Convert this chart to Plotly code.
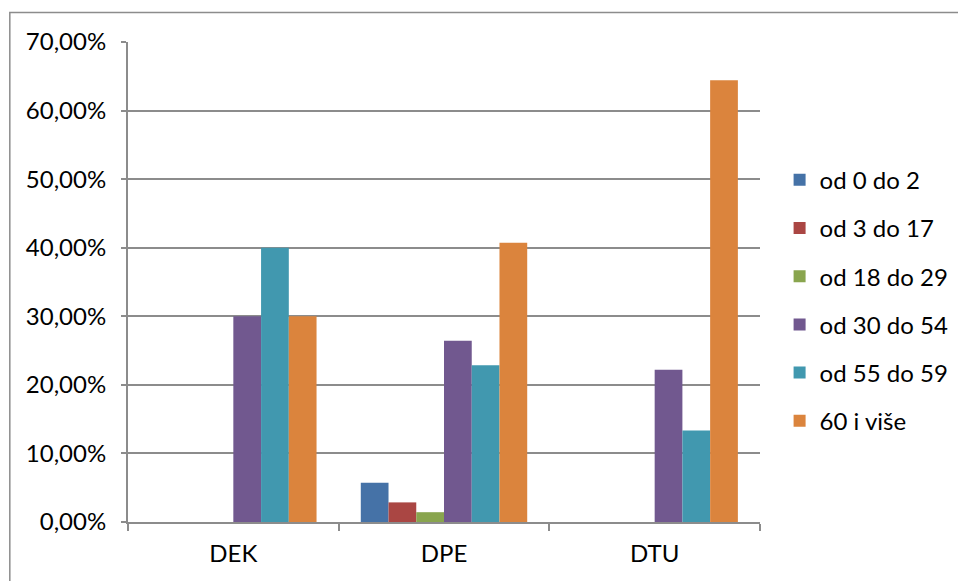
import plotly.graph_objects as go

# ── Data ─────────────────────────────────────────────────────────────────────

CATEGORIES = ["DEK", "DPE", "DTU"]
SERIES = ["od 0 do 2", "od 3 do 17", "od 18 do 29", "od 30 do 54", "od 55 do 59", "60 i više"]

VAL_0_2 = [None, 0.0571, None]
VAL_3_17 = [None, 0.0286, None]
VAL_18_29 = [None, 0.0143, None]
VAL_30_54 = [0.30, 0.2643, 0.2222]
VAL_55_59 = [0.40, 0.2286, 0.1333]
VAL_60_PLUS = [0.30, 0.4071, 0.6444]

COLORS = ["#4572A7", "#AA4643", "#89A54E", "#71588F", "#4198AF", "#DB843D"]

FONT = "Lato, 'Open Sans', sans-serif"
GRID = "#8c8c8c"

# ── Figure ───────────────────────────────────────────────────────────────────

fig = go.Figure()
for i, (name, vals) in enumerate(zip(SERIES, [VAL_0_2, VAL_3_17, VAL_18_29, VAL_30_54, VAL_55_59, VAL_60_PLUS])):
    fig.add_trace(go.Bar(
        name=name, x=CATEGORIES, y=vals,
        marker=dict(color=COLORS[i], line=dict(width=0)),
        legendgroup=str(i),
    ))

# page body has an 8px margin, so the figure is drawn 8px in from the top-left
fig.update_layout(
    width=958, height=573,
    margin=dict(l=120, r=201, t=34, b=59),
    paper_bgcolor="white", plot_bgcolor="white",
    separators=",.",
    barmode="group", bargap=0.21, bargroupgap=0,
    font=dict(family=FONT, size=24, color="#000000"),
    showlegend=True,
    legend=dict(
        x=1.031, y=0.759, xanchor="left", yanchor="top",
        font=dict(size=24), traceorder="grouped", tracegroupgap=14,
        itemwidth=30,
    ),
    xaxis=dict(
        showline=True, linecolor=GRID, linewidth=2,
        ticks="outside", tickson="boundaries", ticklen=7, tickcolor=GRID, tickwidth=2,
        showgrid=False, tickfont=dict(size=24), ticklabelstandoff=9,
    ),
    yaxis=dict(
        range=[0, 0.7], dtick=0.1, tickformat=".2%",
        showline=True, linecolor=GRID, linewidth=2,
        ticks="outside", ticklen=5, tickcolor=GRID, tickwidth=2,
        showgrid=True, gridcolor=GRID, gridwidth=2,
        zeroline=False, tickfont=dict(size=24), ticklabelstandoff=10,
    ),
    shapes=[dict(
        type="rect", xref="paper", yref="paper",
        x0=-0.187, x1=1.45, y0=-0.3, y1=1.0615,
        line=dict(color="#8c8c8c", width=1.5), fillcolor="rgba(0,0,0,0)",
        layer="below",
    )],
)

fig.write_html("out.html")
